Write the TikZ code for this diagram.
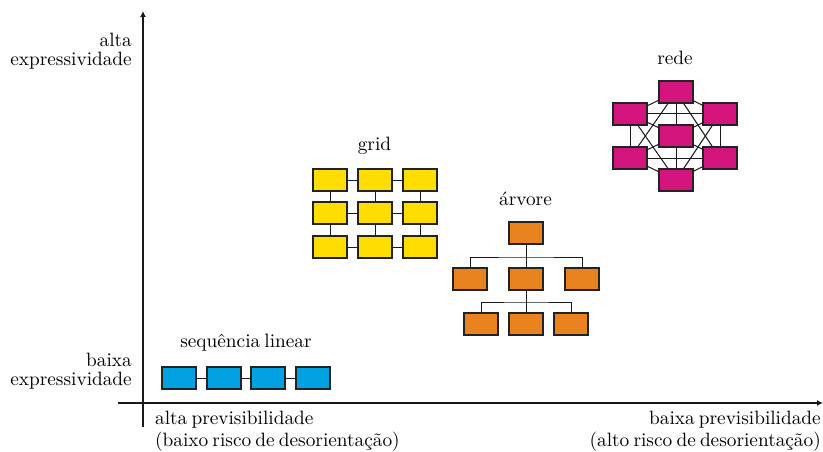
\documentclass[tikz,border=0pt]{standalone}
\usepackage{fontspec}
\setmainfont{lmroman10-regular.otf}
\usetikzlibrary{arrows.meta}
\definecolor{seqblue}{RGB}{0,162,226}
\definecolor{gridyellow}{RGB}{255,221,0}
\definecolor{treeorange}{RGB}{232,131,31}
\definecolor{netmagenta}{RGB}{210,20,124}
\definecolor{boxborder}{RGB}{35,35,35}
\newcommand{\lblfont}{\fontsize{19.3}{23}\selectfont\spaceskip=4.2pt plus 1pt minus 1pt\relax}
\tikzset{
  cell/.style={draw=boxborder, line width=1.4pt, minimum width=34pt, minimum height=22pt, inner sep=0pt},
  seqcell/.style={cell, fill=seqblue},
  gridcell/.style={cell, fill=gridyellow},
  treecell/.style={cell, fill=treeorange},
  netcell/.style={cell, fill=netmagenta},
  link/.style={draw=black!90, line width=1pt},
  axis/.style={draw=black!90, line width=2pt, -{Latex[length=6pt,width=6pt]}},
  lbl/.style={font=\lblfont, text=black, inner sep=0pt},
}
\begin{document}
\begin{tikzpicture}[x=1pt,y=-1pt]
\useasboundingbox (0,0) rectangle (823,452);
% axes
\coordinate (yb) at (143,427);
\coordinate (yt) at (143,11);
\coordinate (xl) at (118,403);
\coordinate (xr) at (823,403);
\draw[axis] (yb) -- (yt);
\draw[axis] (xl) -- (xr);
% axis labels
\node[lbl, anchor=base east] (ya1) at (132,46.5) {alta};
\node[lbl, anchor=base east] (ya2) at (132,65.5) {expressividade};
\node[lbl, anchor=base east] (yb1) at (132,366.5) {baixa};
\node[lbl, anchor=base east] (yb2) at (132,385.5) {expressividade};
\node[lbl, anchor=base west] (xa1) at (155,424.5) {alta previsibilidade};
\node[lbl, anchor=base west] (xa2) at (155,446.5) {(baixo risco de desorientação)};
\node[lbl, anchor=base east] (xb1) at (821,424.5) {baixa previsibilidade};
\node[lbl, anchor=base east] (xb2) at (821,446.5) {(alto risco de desorientação)};
% sequence
\node[lbl, anchor=base] (tseq) at (246,347) {sequência linear};
\node[seqcell] (s1) at (179,378) {};
\node[seqcell] (s2) at (224,378) {};
\node[seqcell] (s3) at (268,378) {};
\node[seqcell] (s4) at (313,378) {};
\draw[link] (s1) -- (s2); \draw[link] (s2) -- (s3); \draw[link] (s3) -- (s4);
% grid
\node[lbl, anchor=base] (tgrid) at (374.5,150) {grid};
\foreach \r/\y in {1/180,2/213,3/247}{
  \foreach \c/\x in {1/330,2/375,3/420}{
    \node[gridcell] (g\r\c) at (\x,\y) {};
  }
}
\foreach \r in {1,2,3}{
  \draw[link] (g\r1) -- (g\r2); \draw[link] (g\r2) -- (g\r3);
}
\foreach \c in {1,2,3}{
  \draw[link] (g1\c) -- (g2\c); \draw[link] (g2\c) -- (g3\c);
}
% tree
\node[lbl, anchor=base] (ttree) at (525.5,205) {árvore};
\node[treecell] (tr) at (526,233) {};
\node[treecell] (ta1) at (470,279) {};
\node[treecell] (ta2) at (526,279) {};
\node[treecell] (ta3) at (582,279) {};
\node[treecell] (tb1) at (481,324) {};
\node[treecell] (tb2) at (526,324) {};
\node[treecell] (tb3) at (571,324) {};
\coordinate (br1) at (526,257);
\coordinate (br2) at (526,302);
\draw[link] (tr) -- (br1);
\draw[link] (ta1.north) |- (br1) -| (ta3.north);
\draw[link] (br1) -- (ta2);
\draw[link] (ta2) -- (br2);
\draw[link] (tb1.north) |- (br2) -| (tb3.north);
\draw[link] (br2) -- (tb2);
% network
\node[lbl, anchor=base] (tnet) at (675,65) {rede};
\node[netcell] (nt) at (676,92) {};
\node[netcell] (nul) at (630,114) {};
\node[netcell] (nur) at (720,114) {};
\node[netcell] (nc) at (676,136) {};
\node[netcell] (nll) at (630,158) {};
\node[netcell] (nlr) at (720,158) {};
\node[netcell] (nb) at (676,180) {};
\foreach \a/\b in {nt/nul, nt/nur, nul/nll, nur/nlr, nll/nb, nlr/nb,
                   nt/nc, nc/nb, nc/nul, nc/nur, nc/nll, nc/nlr,
                   nul/nur, nll/nlr, nt/nll, nt/nlr, nb/nul, nb/nur}{
  \draw[link] (\a) -- (\b);
}
\end{tikzpicture}
\end{document}
